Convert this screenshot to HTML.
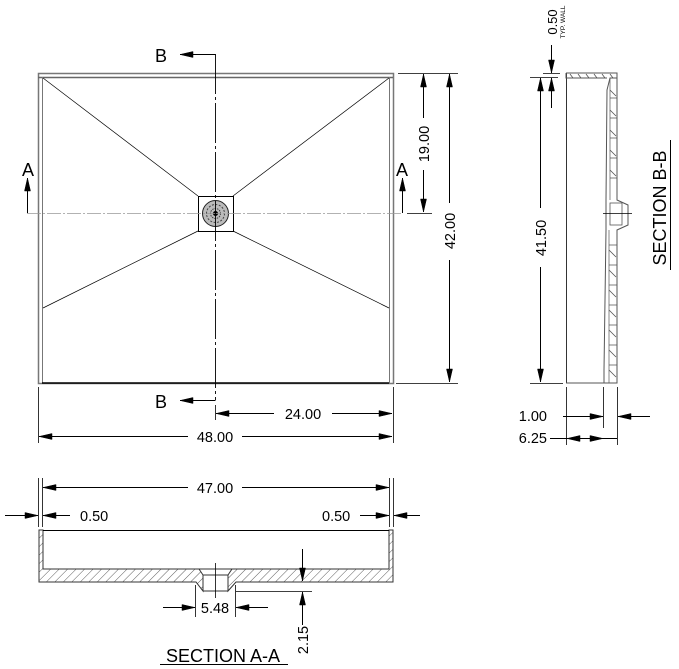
<!DOCTYPE html>
<html><head><style>
html,body{margin:0;padding:0;background:#fff;}
svg{display:block;}
text{font-family:"Liberation Sans",Arial,sans-serif;fill:#000;}
</style></head><body>
<svg width="679" height="669" viewBox="0 0 679 669" xmlns="http://www.w3.org/2000/svg">
<defs>
<pattern id="hat" width="6" height="6" patternUnits="userSpaceOnUse" patternTransform="rotate(45)"><line x1="0" y1="0" x2="0" y2="6" stroke="#333" stroke-width="0.8"/></pattern>
</defs>
<g fill="none" stroke="#000" stroke-width="1">
<rect x="38.5" y="73.5" width="355" height="310" stroke="#777" stroke-width="1.5"/>
<line x1="38" y1="77.5" x2="393" y2="77.5" stroke="#666" stroke-width="1.5"/>
<line x1="42.5" y1="77" x2="42.5" y2="383" stroke="#777"/>
<line x1="389.5" y1="77" x2="389.5" y2="383" stroke="#777"/>
<line x1="42" y1="383" x2="389" y2="383" stroke-width="1.5"/>
<g stroke-width="0.7">
<line x1="43" y1="78" x2="198" y2="196"/><line x1="389" y1="78" x2="233" y2="196"/>
<line x1="43" y1="308" x2="198" y2="231"/><line x1="389" y1="308" x2="233" y2="231"/>
</g>
<rect x="198.5" y="196.5" width="35" height="35"/>
<circle cx="215.5" cy="213.5" r="13" fill="#bbb" stroke="#222"/>
<circle cx="215.5" cy="213.5" r="9" stroke="#444" stroke-dasharray="2 1.5"/>
<circle cx="215.5" cy="213.5" r="5" stroke="#444" stroke-dasharray="1.5 1"/>
<circle cx="215.5" cy="213.5" r="2" fill="#000"/>
<line x1="27" y1="213.5" x2="402" y2="213.5" stroke="#999" stroke-width="0.8" stroke-dasharray="14 2 2 2"/>
<line x1="215.5" y1="54" x2="215.5" y2="400" stroke-width="0.9" stroke-dasharray="40 3 3 3"/>
<line x1="215.5" y1="54.5" x2="180" y2="54.5"/>
<line x1="215.5" y1="400.5" x2="180" y2="400.5"/>
<line x1="27.5" y1="213" x2="27.5" y2="178"/>
<line x1="402.5" y1="213" x2="402.5" y2="178"/>
<line x1="398" y1="73.5" x2="458" y2="73.5" stroke-width="0.8"/>
<line x1="396" y1="383.5" x2="458" y2="383.5" stroke-width="0.8"/>
<line x1="407" y1="213.5" x2="432" y2="213.5" stroke-width="0.8"/>
<line x1="423.5" y1="118" x2="423.5" y2="74"/>
<line x1="423.5" y1="170" x2="423.5" y2="212"/>
<line x1="449.5" y1="203" x2="449.5" y2="74"/>
<line x1="449.5" y1="260" x2="449.5" y2="382"/>
<line x1="38.5" y1="387" x2="38.5" y2="443" stroke-width="0.8"/>
<line x1="393.5" y1="387" x2="393.5" y2="443" stroke-width="0.8"/>
<line x1="215.5" y1="405" x2="215.5" y2="420" stroke-width="0.8"/>
<line x1="274" y1="413.5" x2="216" y2="413.5"/>
<line x1="332" y1="413.5" x2="392" y2="413.5"/>
<line x1="188" y1="436.5" x2="39" y2="436.5"/>
<line x1="242" y1="436.5" x2="392" y2="436.5"/>
<line x1="566.5" y1="73" x2="566.5" y2="383" stroke-width="0.8"/>
<path d="M566,73 L617,73 L617,78 L610,78 L607,90 L606,200 L606,230 L604,370 L604,383 L566,383" stroke="#555"/>
<path d="M566,73 L566,78 L607,78" stroke="#555"/>
<path d="M617,78 L617,200 L628,205 L628,225 L617,230 L617,383 L604,383" stroke="#555"/>
<path d="M610,78 L610,200 M609,230 L609,383" stroke="#555" stroke-width="0.7"/>
<g stroke="#555" stroke-width="0.8">
<path d="M610,98 h7 M610,118 h7 M610,138 h7 M610,158 h7 M610,178 h7 M609,245 h8 M609,265 h8 M609,285 h8 M609,305 h8 M609,325 h8 M609,345 h8 M609,365 h8"/>
<path d="M570,74 l3,4 M578,74 l3,4 M586,74 l3,4 M594,74 l3,4 M602,74 l3,4 M610,74 l3,4"/>
<path d="M610,90 l6,6 M610,110 l6,6 M610,130 l6,6 M610,150 l6,6 M610,170 l6,6 M609,250 l7,7 M609,270 l7,7 M609,290 l7,7 M609,310 l7,7 M609,330 l7,7 M609,350 l7,7 M609,370 l7,7"/>
<rect x="610" y="203" width="12" height="22"/>
</g>
<line x1="603" y1="213.5" x2="632" y2="213.5" stroke-width="0.8"/>
<line x1="530" y1="77.5" x2="558" y2="77.5" stroke-width="0.8"/>
<line x1="530" y1="383.5" x2="563" y2="383.5" stroke-width="0.8"/>
<line x1="543" y1="73.5" x2="560" y2="73.5" stroke-width="0.8"/>
<line x1="540.5" y1="208" x2="540.5" y2="78"/>
<line x1="540.5" y1="267" x2="540.5" y2="382"/>
<line x1="551.5" y1="45" x2="551.5" y2="73"/>
<line x1="551.5" y1="108" x2="551.5" y2="78"/>
<line x1="566.5" y1="387" x2="566.5" y2="445" stroke-width="0.8"/>
<line x1="603.5" y1="387" x2="603.5" y2="428" stroke-width="0.8"/>
<line x1="617.5" y1="387" x2="617.5" y2="445" stroke-width="0.8"/>
<line x1="563" y1="416.5" x2="603" y2="416.5"/>
<line x1="650" y1="416.5" x2="618" y2="416.5"/>
<line x1="550" y1="438.5" x2="617" y2="438.5"/>
<line x1="670.5" y1="140" x2="670.5" y2="270"/>
<line x1="38.5" y1="478" x2="38.5" y2="527" stroke-width="0.8"/>
<line x1="42.5" y1="478" x2="42.5" y2="527" stroke-width="0.8"/>
<line x1="389.5" y1="478" x2="389.5" y2="527" stroke-width="0.8"/>
<line x1="393.5" y1="478" x2="393.5" y2="527" stroke-width="0.8"/>
<line x1="188" y1="487.5" x2="43" y2="487.5"/>
<line x1="242" y1="487.5" x2="389" y2="487.5"/>
<line x1="5" y1="515.5" x2="38" y2="515.5"/>
<line x1="70" y1="515.5" x2="43" y2="515.5"/>
<line x1="360" y1="515.5" x2="389" y2="515.5"/>
<line x1="420" y1="515.5" x2="394" y2="515.5"/>
<path d="M39,530 L43,530 L43,569 L199,569 L203,575 L203,591 L196,582 L39,582 Z" fill="url(#hat)" stroke="#333"/>
<path d="M393,530 L389,530 L389,569 L232,569 L228,575 L228,591 L236,582 L393,582 Z" fill="url(#hat)" stroke="#333"/>
<line x1="43" y1="530.5" x2="389" y2="530.5"/>
<path d="M199,569 L232,569 M203,575 L228,575 M203,591 L228,591" stroke="#333"/>
<line x1="215.5" y1="563" x2="215.5" y2="598" stroke-width="0.8"/>
<line x1="195.5" y1="585" x2="195.5" y2="617" stroke-width="0.8"/>
<line x1="235.5" y1="585" x2="235.5" y2="617" stroke-width="0.8"/>
<line x1="163" y1="607.5" x2="195" y2="607.5"/>
<line x1="268" y1="607.5" x2="236" y2="607.5"/>
<line x1="236" y1="591.5" x2="312" y2="591.5" stroke-width="0.8"/>
<line x1="302.5" y1="549" x2="302.5" y2="581"/>
<line x1="302.5" y1="625" x2="302.5" y2="592"/>
<line x1="160" y1="664.5" x2="288" y2="664.5"/>
</g>
<path fill="#000" stroke="#000" stroke-width="0.5" d="
M180,54.5 L193,51.5 L193,57.5 Z
M180,400.5 L193,397.5 L193,403.5 Z
M27.5,178 L24.5,191 L30.5,191 Z
M402.5,178 L399.5,191 L405.5,191 Z
M423.5,74 L420.5,87 L426.5,87 Z
M423.5,212 L420.5,199 L426.5,199 Z
M449.5,74 L446.5,87 L452.5,87 Z
M449.5,382 L446.5,369 L452.5,369 Z
M216,413.5 L229,410.5 L229,416.5 Z
M392,413.5 L379,410.5 L379,416.5 Z
M39,436.5 L52,433.5 L52,439.5 Z
M392,436.5 L379,433.5 L379,439.5 Z
M540.5,78 L537.5,91 L543.5,91 Z
M540.5,382 L537.5,369 L543.5,369 Z
M551.5,73 L548.5,60 L554.5,60 Z
M551.5,78 L548.5,91 L554.5,91 Z
M603,416.5 L590,413.5 L590,419.5 Z
M618,416.5 L631,413.5 L631,419.5 Z
M567,438.5 L580,435.5 L580,441.5 Z
M603,438.5 L590,435.5 L590,441.5 Z
M43,487.5 L56,484.5 L56,490.5 Z
M389,487.5 L376,484.5 L376,490.5 Z
M38,515.5 L25,512.5 L25,518.5 Z
M43,515.5 L56,512.5 L56,518.5 Z
M389,515.5 L376,512.5 L376,518.5 Z
M394,515.5 L407,512.5 L407,518.5 Z
M195,607.5 L182,604.5 L182,610.5 Z
M236,607.5 L249,604.5 L249,610.5 Z
M302.5,581 L299.5,568 L305.5,568 Z
M302.5,592 L299.5,605 L305.5,605 Z"/>
<g font-size="18">
<text x="161" y="62" text-anchor="middle">B</text>
<text x="161" y="408" text-anchor="middle">B</text>
<text x="28" y="176" text-anchor="middle">A</text>
<text x="402" y="176" text-anchor="middle">A</text>
</g>
<g font-size="14.5">
<text x="303" y="419" text-anchor="middle">24.00</text>
<text x="215" y="442" text-anchor="middle">48.00</text>
<text transform="translate(429,144) rotate(-90)" text-anchor="middle">19.00</text>
<text transform="translate(455,231) rotate(-90)" text-anchor="middle">42.00</text>
<text transform="translate(546,238) rotate(-90)" text-anchor="middle">41.50</text>
<text x="547" y="421" text-anchor="end">1.00</text>
<text x="547" y="443" text-anchor="end">6.25</text>
<text x="215" y="493" text-anchor="middle">47.00</text>
<text x="80" y="521">0.50</text>
<text x="322" y="521">0.50</text>
<text x="215" y="613" text-anchor="middle">5.48</text>
<text transform="translate(308,640) rotate(-90)" text-anchor="middle">2.15</text>
<text transform="translate(557,22) rotate(-90)" text-anchor="middle" font-size="13">0.50</text>
<text transform="translate(565,22) rotate(-90)" text-anchor="middle" font-size="6.5">TYP. WALL</text>
</g>
<text x="223" y="662" text-anchor="middle" font-size="18">SECTION A-A</text>
<text transform="translate(666,208) rotate(-90)" text-anchor="middle" font-size="18">SECTION B-B</text>
</svg>
</body></html>
